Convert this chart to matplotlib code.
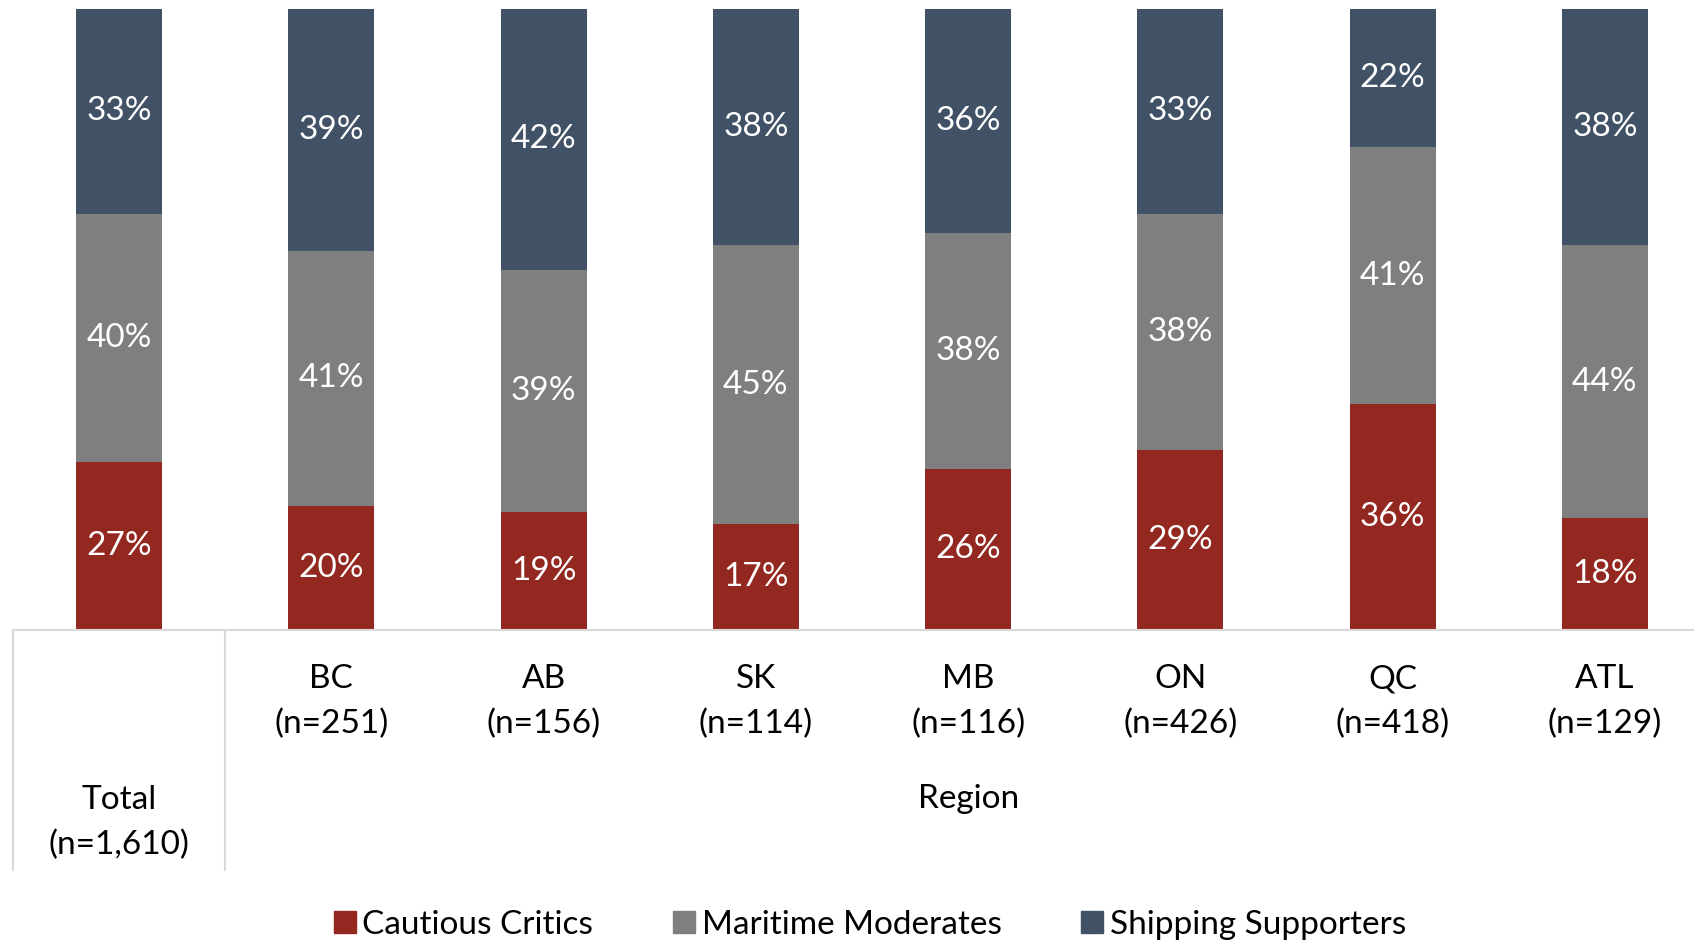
import numpy as np
import matplotlib
matplotlib.use("Agg")
import matplotlib.pyplot as plt  # noqa: E402
from matplotlib.patches import Patch  # noqa: E402

plt.rcParams["font.family"] = ["Lato", "DejaVu Sans"]

groups = ["Total", "BC", "AB", "SK", "MB", "ON", "QC", "ATL"]
sizes = ["n=1,610", "n=251", "n=156", "n=114", "n=116", "n=426", "n=418", "n=129"]
critics = [27, 20, 19, 17, 26, 29, 36, 18]
moderates = [40, 41, 39, 45, 38, 38, 41, 44]
supporters = [33, 39, 42, 38, 36, 33, 22, 38]
series = ["Cautious Critics", "Maritime Moderates", "Shipping Supporters"]
colors = ["#922820", "#7f7f7f", "#415166"]

vals = np.array([critics, moderates, supporters], dtype=float)
shares = vals / vals.sum(axis=0)  # 100% stacked, like Excel
x = np.arange(len(groups))
FS = 24

fig = plt.figure(figsize=(16.94, 9.46), dpi=100)
ax = fig.add_axes([13 / 1694, 1 - 630 / 946, 1 - 13 / 1694, 621 / 946])

bottom = np.zeros(len(groups))
for k in range(3):
    ax.bar(x, shares[k], 0.405, bottom=bottom, color=colors[k], label=series[k])
    for i in range(len(groups)):
        ax.text(x[i], bottom[i] + shares[k][i] / 2, f"{int(vals[k][i])}%",
                ha="center", va="center", color="white", fontsize=FS)
    bottom += shares[k]

ax.set_xlim(-0.5, 7.42)
ax.set_ylim(0, 1)
ax.set_yticks([]); ax.set_xticks([])
for s in ["top", "right", "left"]:
    ax.spines[s].set_visible(False)
ax.spines["bottom"].set_color("#d9d9d9"); ax.spines["bottom"].set_linewidth(1.5)

# category table under the axis
xt = ax.get_xaxis_transform()
depth = -240 / 621
for xv in (-0.5, 0.5):
    ax.plot([xv, xv], [0, depth], color="#d9d9d9", lw=1.5, clip_on=False, transform=xt)
for i in range(1, len(groups)):
    ax.text(x[i], -0.116, f"{groups[i]}\n({sizes[i]})", ha="center", va="center",
            fontsize=FS, linespacing=1.6, transform=xt)
ax.text(x[0], -0.31, f"{groups[0]}\n({sizes[0]})", ha="center", va="center",
        fontsize=FS, linespacing=1.6, transform=xt)
ax.text(4, -0.272, "Region", ha="center", va="center", fontsize=FS, transform=xt)

handles = [Patch(color=c, label=l) for c, l in zip(colors, series)]
fig.legend(handles=handles, loc="center", bbox_to_anchor=(870 / 1694, 1 - 925 / 946),
           ncol=3, frameon=False, fontsize=FS, handlelength=0.65, handleheight=0.65,
           handletextpad=0.2, columnspacing=2.4)

fig.savefig("out.png", dpi=100)
